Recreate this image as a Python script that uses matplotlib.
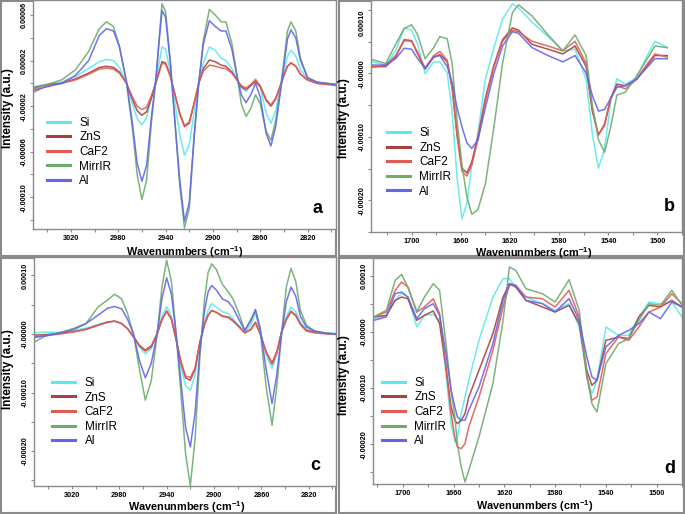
import matplotlib
matplotlib.use('Agg')
import matplotlib.pyplot as plt
import numpy as np
from matplotlib.lines import Line2D
from matplotlib.patches import Rectangle

plt.rcParams['font.family'] = ['Liberation Sans', 'DejaVu Sans']
plt.rcParams['mathtext.fontset'] = 'custom'
plt.rcParams['mathtext.rm'] = 'Liberation Sans:bold'
plt.rcParams['mathtext.bf'] = 'Liberation Sans:bold'

# intensities are in units of 1e-5 a.u.
# ---- panel a (C-H region) ----
wn_a = [3052, 3040, 3028, 3016, 3005, 2996, 2990, 2984, 2979, 2973, 2968, 2964, 2960, 2956, 2952,
        2948, 2945, 2943, 2940, 2936, 2932, 2928, 2924, 2920, 2916, 2912, 2908, 2903, 2898, 2893,
        2889, 2884, 2879, 2876, 2872, 2868, 2864, 2860, 2855, 2851, 2847, 2843, 2840, 2837, 2834,
        2830, 2826, 2820, 2812, 2796]
si_a = [-0.3, -0.1, 0.1, 0.6, 1.3, 1.9, 2.1, 2.0, 1.4, 0.0, -1.8, -3.1, -3.65, -3.0, -1.3, 0.3, 2.0,
        3.2, 3.0, 1.0, -1.8, -4.5, -6.3, -5.4, -2.6, 0.0, 1.8, 3.2, 2.9, 2.2, 2.0, 1.3, 0.2, -0.4,
        -0.7, -0.2, 0.4, -0.3, -2.6, -3.5, -2.4, -0.4, 1.0, 2.4, 2.9, 2.4, 1.2, 0.4, 0.1, -0.1]
zns_a = [-0.4, -0.1, 0.0, 0.4, 0.9, 1.4, 1.5, 1.4, 1.0, 0.0, -1.4, -2.4, -2.8, -2.5, -1.3, 0.1, 1.2,
         1.9, 1.8, 0.7, -1.0, -2.7, -3.8, -3.5, -1.8, 0.0, 1.3, 2.05, 1.9, 1.6, 1.5, 1.0, 0.2, -0.3,
         -0.55, -0.2, 0.15, -0.3, -1.5, -2.0, -1.4, -0.2, 0.7, 1.5, 1.8, 1.5, 0.8, 0.3, 0.0, -0.1]
caf2_a = [-0.8, -0.2, 0.0, 0.3, 0.8, 1.25, 1.35, 1.25, 0.9, 0.0, -1.2, -2.0, -2.3, -2.1, -1.1, 0.1,
          1.1, 1.75, 1.7, 0.6, -1.0, -2.6, -3.7, -3.4, -1.8, 0.0, 1.1, 1.6, 1.5, 1.35, 1.3, 0.9, 0.2,
          -0.2, -0.4, -0.1, 0.3, -0.2, -1.4, -1.9, -1.3, -0.2, 0.7, 1.5, 1.8, 1.5, 0.8, 0.3, 0.0, -0.2]
mirr_a = [-0.5, -0.1, 0.3, 1.2, 2.8, 4.8, 5.4, 5.0, 3.3, 0.0, -4.0, -8.0, -10.2, -8.5, -3.5, 0.5, 4.5,
          7.0, 6.3, 2.0, -3.5, -9.0, -12.7, -11.0, -5.0, 0.0, 3.8, 6.5, 6.0, 5.4, 5.4, 3.5, 0.3, -1.8,
          -2.9, -2.2, -1.0, -1.8, -4.2, -5.0, -3.3, -0.5, 2.0, 4.6, 5.4, 4.6, 2.2, 0.5, 0.1, -0.1]
al_a = [-0.6, -0.3, 0.0, 0.7, 2.0, 4.2, 4.8, 4.6, 3.2, 0.2, -3.5, -7.0, -8.6, -7.2, -3.0, 0.6, 4.2,
        6.4, 5.8, 1.8, -3.5, -8.5, -12.1, -10.5, -4.8, 0.0, 3.5, 5.5, 5.0, 4.6, 4.6, 3.0, 0.3, -1.0,
        -1.7, -1.0, 0.0, -1.2, -4.4, -5.5, -3.8, -0.8, 1.6, 3.9, 4.7, 4.0, 2.0, 0.5, 0.1, -0.1]

# ---- panel b (amide region) ----
wn_b = [1732, 1721, 1713, 1706, 1700, 1695, 1689, 1682, 1677, 1671, 1667, 1663, 1659, 1655, 1651,
        1646, 1640, 1633, 1626, 1618, 1613, 1602, 1589, 1577, 1567, 1558, 1553, 1548, 1543, 1538,
        1533, 1526, 1517, 1509, 1502, 1492]
si_b = [1.8, 1.3, 3.55, 7.15, 6.8, 4.55, -0.05, 1.8, 1.8, 0.05, -5.95, -16.45, -22.95, -20.45,
        -14.45, -9.45, -0.95, 4.05, 8.55, 10.95, 10.3, 8.05, 5.8, 3.55, 3.8, -0.95, -9.45, -14.95,
        -11.95, -4.45, -0.85, -1.7, -0.7, 2.55, 5.05, 4.05]
zns_b = [1.05, 1.05, 2.55, 5.3, 5.15, 3.05, 0.65, 2.55, 2.95, 1.8, -1.95, -9.45, -14.95, -15.7,
         -13.95, -9.95, -3.95, 1.3, 5.3, 7.15, 6.8, 4.55, 3.8, 3.05, 4.3, 1.05, -5.95, -9.7, -8.2,
         -3.95, -1.7, -1.95, -0.95, 1.05, 2.8, 2.8]
caf2_b = [0.95, 1.3, 2.8, 5.15, 5.05, 3.3, 0.8, 2.8, 3.45, 2.05, -2.45, -9.95, -15.45, -16.2,
          -14.45, -10.45, -4.45, 1.05, 5.05, 6.8, 6.55, 5.05, 4.3, 3.55, 5.05, 1.55, -5.45, -9.7,
          -7.95, -3.95, -1.95, -2.45, -0.95, 1.3, 3.05, 2.55]
mirr_b = [2.15, 1.55, 4.55, 7.05, 7.65, 6.05, 2.3, 4.05, 5.8, 5.45, 1.55, -7.45, -14.45, -19.45,
          -22.2, -21.45, -17.45, -8.45, 1.55, 9.55, 10.8, 9.05, 6.05, 3.55, 6.05, 2.8, -4.95, -10.45,
          -12.45, -8.45, -3.45, -2.95, -0.45, 2.05, 4.3, 4.05]
al_b = [1.3, 1.3, 2.3, 3.95, 3.8, 2.3, 0.8, 2.55, 2.8, 1.05, -1.45, -5.45, -8.45, -10.95, -11.85,
        -10.45, -5.45, 0.05, 4.3, 6.55, 6.3, 4.05, 2.8, 1.8, 2.8, 0.05, -3.45, -5.95, -5.7, -3.95,
        -2.2, -1.95, -0.95, 0.8, 2.3, 2.3]

# ---- panel c (C-H region) ----
wn_c = [3052, 3042, 3030, 3018, 3008, 2998, 2990, 2984, 2978, 2973, 2968, 2963, 2958, 2953, 2948,
        2944, 2940, 2936, 2932, 2928, 2924, 2920, 2916, 2912, 2908, 2905, 2902, 2898, 2893, 2888,
        2884, 2879, 2874, 2869, 2865, 2861, 2856, 2851, 2847, 2843, 2839, 2835, 2831, 2827, 2822,
        2815, 2805, 2796]
si_c = [0.2, 0.3, 0.3, 0.6, 1.0, 1.6, 2.1, 2.2, 1.8, 0.9, -0.5, -2.2, -3.4, -2.5, 0.0, 3.0, 4.7, 3.0,
        -1.0, -5.5, -8.8, -9.6, -7.0, -1.5, 2.0, 4.0, 5.2, 4.6, 3.8, 3.5, 2.6, 1.4, 0.3, 1.5, 3.6,
        0.5, -3.5, -5.9, -3.5, 0.5, 3.0, 4.6, 3.8, 2.0, 0.8, 0.4, 0.2, 0.1]
zns_c = [-0.2, -0.1, 0.1, 0.4, 0.8, 1.5, 2.0, 2.2, 1.8, 0.9, -0.5, -2.0, -2.9, -2.2, 0.0, 2.4, 3.9,
         2.5, -1.0, -4.8, -7.5, -7.9, -6.0, -1.5, 1.6, 3.2, 4.0, 3.7, 3.1, 2.9, 2.3, 1.3, 0.2, 0.8,
         2.0, 0.0, -3.0, -5.0, -3.0, 0.3, 2.5, 3.9, 3.2, 1.7, 0.6, 0.3, 0.1, 0.0]
caf2_c = [-0.5, -0.3, 0.0, 0.4, 0.8, 1.5, 2.0, 2.2, 1.8, 0.9, -0.4, -1.9, -2.7, -2.0, 0.1, 2.5, 3.9,
          2.6, -0.8, -4.6, -7.2, -7.4, -5.8, -1.4, 1.6, 3.2, 4.05, 3.7, 3.0, 2.8, 2.2, 1.2, 0.2, 0.7,
          1.9, 0.0, -3.1, -5.2, -3.2, 0.2, 2.4, 3.8, 3.1, 1.6, 0.5, 0.2, 0.0, -0.1]
mirr_c = [-1.4, -0.3, 0.2, 1.0, 1.8, 4.6, 5.8, 6.8, 6.0, 3.5, 0.0, -6.0, -11.3, -8.0, 0.0, 8.0, 12.6,
          9.0, 0.0, -10.0, -20.5, -25.9, -18.0, -4.0, 6.0, 10.5, 12.0, 11.0, 8.5, 7.2, 6.0, 3.5, 0.6,
          2.5, 4.0, 0.5, -9.0, -15.6, -9.0, 0.0, 8.0, 11.2, 9.0, 4.0, 1.5, 0.5, 0.1, 0.0]
al_c = [-0.6, -0.3, 0.2, 0.8, 1.8, 3.2, 4.4, 4.7, 4.3, 2.5, 0.0, -4.5, -7.5, -5.0, 0.0, 6.0, 9.6, 6.8,
        0.0, -8.0, -16.0, -19.3, -13.5, -3.0, 4.0, 7.2, 8.3, 7.5, 6.0, 5.5, 4.5, 2.5, 0.6, 2.2, 4.2,
        1.0, -6.0, -11.9, -7.0, 0.0, 5.5, 8.0, 6.5, 3.0, 1.2, 0.5, 0.1, 0.0]

# ---- panel d (amide region) ----
wn_d = [1723, 1713, 1706, 1701, 1696, 1689, 1683, 1676, 1671, 1666, 1662, 1659, 1657, 1654, 1651,
        1648, 1640, 1629, 1621, 1616, 1611, 1603, 1590, 1580, 1569, 1561, 1555, 1551, 1547, 1540,
        1530, 1522, 1514, 1506, 1497, 1488, 1480]
si_d = [2.38, 2.97, 5.64, 6.95, 6.24, 0.89, 2.97, 3.15, 2.08, -7.42, -16.33, -19.6, -18.7, -14.55,
        -11.58, -8.61, -1.49, 6.24, 9.51, 9.51, 8.02, 6.24, 5.05, 3.87, 5.05, 0.89, -8.01, -10.98,
        -8.61, 0.89, -0.59, -0.59, 2.68, 5.35, 5.05, 5.35, 2.68]
zns_d = [2.68, 2.97, 5.64, 6.24, 5.94, 2.08, 2.97, 3.75, 1.49, -6.23, -13.36, -15.74, -16.33, -15.74,
         -14.55, -11.58, -6.83, -0.29, 6.24, 8.62, 8.02, 5.64, 4.46, 3.57, 4.76, 1.49, -6.83, -9.5,
         -8.61, -1.49, -0.89, -1.18, 2.68, 4.76, 4.46, 5.64, 4.46]
caf2_d = [2.68, 3.57, 7.43, 8.92, 8.02, 3.57, 4.46, 5.94, 3.27, -6.23, -14.55, -18.71, -20.49,
          -20.79, -19.9, -16.92, -11.58, -3.26, 4.46, 8.32, 8.32, 6.24, 5.94, 4.46, 7.43, 2.68, -8.01,
          -12.17, -11.58, -3.86, -0.89, -1.48, 0.89, 3.57, 4.46, 6.83, 5.05]
mirr_d = [2.68, 3.87, 9.21, 10.28, 8.02, 3.57, 6.24, 8.62, 7.43, -2.07, -10.39, -15.14, -19.9, -24.05,
          -26.73, -24.65, -18.71, -9.2, 2.08, 11.59, 10.99, 7.73, 6.83, 5.35, 9.33, 3.87, -7.42,
          -12.77, -14.25, -5.64, -2.07, -1.18, 2.08, 5.05, 4.76, 7.43, 4.76]
al_d = [2.08, 2.68, 6.83, 7.13, 6.24, 2.38, 4.16, 5.05, 2.97, -3.86, -10.39, -13.36, -15.14, -15.74,
        -15.74, -13.95, -9.8, -2.07, 5.64, 8.62, 8.32, 5.64, 5.05, 3.57, 5.94, 2.08, -4.45, -8.01,
        -8.61, -2.67, -0.59, 0.3, 1.49, 3.57, 2.38, 5.35, 4.46]

names = ['Si', 'ZnS', 'CaF2', 'MirrIR', 'Al']
colors = ['#5ce8ee', '#a8403c', '#e35a55', '#6cac6c', '#6464ec']

ticks_ch = [3020, 2980, 2940, 2900, 2860, 2820]
minor_ch = [3040, 3000, 2960, 2920, 2880, 2840, 2800]
ticks_am = [1700, 1660, 1620, 1580, 1540, 1500]
minor_am = [1720, 1680, 1640, 1600, 1560, 1520, 1480]

yt_a = [6e-5, 2e-5, -2e-5, -6e-5, -10e-5]
ytl_a = ['0.00006', '0.00002', '-0.00002', '-0.00006', '-0.00010']
ym_a = [-12e-5, -8e-5, -4e-5, 0, 4e-5]
yt_b = [1e-4, 0, -1e-4, -2e-4]
ytl_b = ['0.00010', '-0.00000', '-0.00010', '-0.00020']
ym_b = [5e-5, -5e-5, -1.5e-4, -2.5e-4]

W, H = 685, 514
fig = plt.figure(figsize=(6.85, 5.14), dpi=100)

# grey frames around each of the four sub-figures
bg = fig.add_axes([0, 0, 1, 1])
bg.set_xlim(0, W)
bg.set_ylim(H, 0)
bg.axis('off')
for (x0, y0, x1, y1) in [(1, 1, 336, 256), (339, 1, 684, 256), (1, 258, 336, 513), (339, 258, 684, 513)]:
    bg.add_patch(Rectangle((x0, y0), x1 - x0, y1 - y0, fill=False, ec='#8a8a8a', lw=1.5))

grey = '#8a8a8a'


def panel(box, wn, series, xlim, ylim, xt, xm, yt, ytl, ym, letter, letpos, xlab, ylab, leg,
          top_down=False):
    l, t, r, b = box
    ax = fig.add_axes([l / W, 1 - b / H, (r - l) / W, (b - t) / H])
    for s, c in zip(series, colors):
        ax.plot(wn, np.array(s) * 1e-5, color=c, lw=1.1, alpha=0.9)
    ax.set_xlim(*xlim)
    ax.set_ylim(*ylim)
    ax.set_xticks(xt)
    ax.set_xticks(xm, minor=True)
    ax.set_xticklabels([str(v) for v in xt])
    ax.set_yticks(yt)
    ax.set_yticks(ym, minor=True)
    ax.set_yticklabels(ytl, rotation=90, va='center')
    ax.tick_params(which='both', length=2, width=0.8, color=grey, labelsize=5.3, pad=2)
    for lb in ax.get_xticklabels() + ax.get_yticklabels():
        lb.set_fontweight('bold')
    if top_down:
        # top label sits just under the frame edge
        ax.get_yticklabels()[0].set_va('top')
    for sp in ax.spines.values():
        sp.set_color(grey)
        sp.set_linewidth(1.0)
    ax.set_xlabel(r'Wavenunmbers (cm$^{\mathbf{-1}}$)', fontsize=7.8, fontweight='bold')
    ax.xaxis.set_label_coords(*xlab)
    ax.set_ylabel('Intensity (a.u.)', fontsize=8.5, fontweight='bold')
    ax.yaxis.set_label_coords(*ylab)
    ax.text(letpos[0], letpos[1], letter, transform=ax.transAxes, fontsize=13,
            fontweight='bold', ha='center', va='center')
    handles = [Line2D([], [], color=c, lw=2.2) for c in colors]
    ax.legend(handles, names, loc='upper left', bbox_to_anchor=leg, frameon=False,
              fontsize=8.5, handlelength=1.95, handletextpad=0.8, labelspacing=0.22,
              borderpad=0, borderaxespad=0)
    return ax


panel((33, 0, 336, 229), wn_a, [si_a, zns_a, caf2_a, mirr_a, al_a], (3052, 2796), (-12.79e-5, 7.32e-5),
      ticks_ch, minor_ch, yt_a, ytl_a, ym_a, 'a', (0.94, 0.09), (0.5, -0.066), (-0.063, 0.53),
      (0.046, 0.49))
panel((371, 0, 682, 232), wn_b, [si_b, zns_b, caf2_b, mirr_b, al_b], (1733, 1492), (-23.24e-5, 11.55e-5),
      ticks_am, minor_am, yt_b, ytl_b, ym_b, 'b', (0.96, 0.11), (0.524, -0.056), (-0.068, 0.49),
      (0.051, 0.452), top_down=True)
panel((34, 257, 336, 486), wn_c, [si_c, zns_c, caf2_c, mirr_c, al_c], (3052, 2797), (-25.98e-5, 13.16e-5),
      ticks_ch, minor_ch, yt_b, ytl_b, ym_b, 'c', (0.93, 0.09), (0.507, -0.056), (-0.066, 0.51),
      (0.06, 0.476))
panel((373, 258, 682, 484), wn_d, [si_d, zns_d, caf2_d, mirr_d, al_d], (1723.5, 1481), (-27.1e-5, 13.2e-5),
      ticks_am, minor_am, yt_b, ytl_b, ym_b, 'd', (0.96, 0.07), (0.524, -0.064), (-0.074, 0.48),
      (0.029, 0.474))

fig.savefig('out.png', dpi=100)
